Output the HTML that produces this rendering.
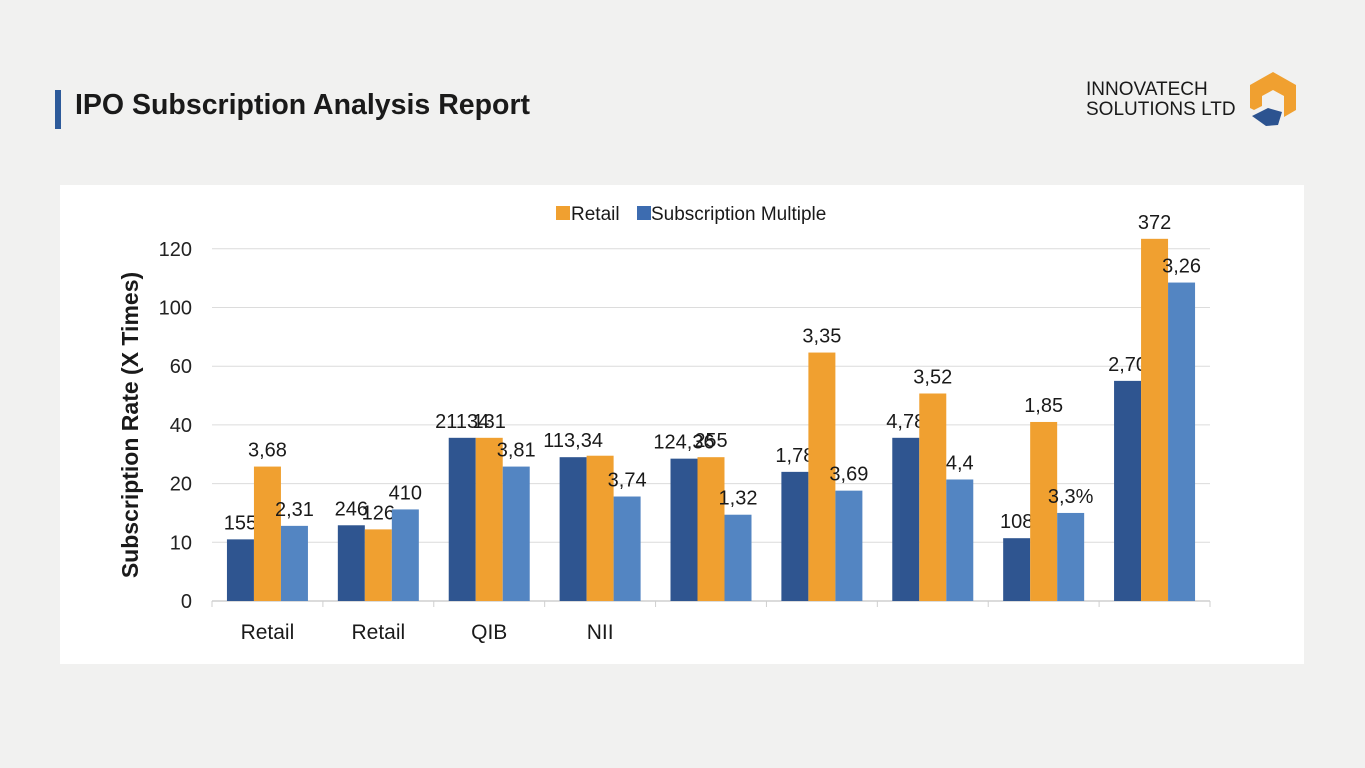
<!DOCTYPE html>
<html><head><meta charset="utf-8"><style>
body{margin:0;width:1365px;height:768px;background:#f1f1f0;font-family:"Liberation Sans",sans-serif;overflow:hidden;position:relative}
.abs{position:absolute}
</style></head><body>
<div class="abs" style="left:55px;top:90px;width:6px;height:39px;background:#2d5a9a"></div>
<div class="abs" style="left:75px;top:89px;font-size:28.5px;font-weight:bold;color:#1a1a1a">IPO Subscription Analysis Report</div>
<div class="abs" style="left:1086px;top:80px;font-size:19px;line-height:20px;color:#1a1a1a">INNOVATECH<br>SOLUTIONS LTD</div>
<svg class="abs" style="left:1246px;top:70px" width="54" height="58" viewBox="0 0 54 58">
<path d="M27 2 L50 15 L50 40 L38 47 L38 26 L27 20 L16 26 L16 36 L8 40 L4 38 L4 15 Z" fill="#f0a030"/>
<path d="M6 46 L22 38 L36 42 L32 55 L20 56 Z" fill="#2c5390"/>
</svg>
<div class="abs" style="left:60px;top:185px;width:1244px;height:479px;background:#fff"></div>
<svg id="chart" class="abs" style="left:0;top:0" width="1365" height="768"></svg>
<script>
const categories=["Retail","Retail","QIB","NII","","","","",""];
const tickValues=[0,10,20,40,60,100,120];
const seriesDark=[10.5,12.9,35.6,29,28.5,24,35.6,10.7,55];
const seriesOrange=[25.8,12.2,35.6,29.5,29,69.3,50.7,41,123.4];
const seriesLight=[12.8,15.6,25.8,17.8,14.7,18.8,21.4,15,108.5];
const labelsDark=["155","246","21134","113,34","124,36","1,78","4,78","108","2,70"];
const labelsOrange=["3,68","126","131","","255","3,35","3,52","1,85","372"];
const labelsLight=["2,31","410","3,81","3,74","1,32","3,69","4,4","3,3%","3,26"];
const svg=document.getElementById('chart');
const NS="http://www.w3.org/2000/svg";
const x0=212,x1=1210,yBase=601,step=58.7;
function y(v){
  for(let i=0;i<tickValues.length-1;i++){
    if(v<=tickValues[i+1]||i===tickValues.length-2){
      const a=tickValues[i],b=tickValues[i+1];
      return yBase-(i+(v-a)/(b-a))*step;
    }
  }
}
const gw=(x1-x0)/categories.length;
function gx(i){return x0+gw*(i+0.5);}
function mk(tag,attrs,text){const e=document.createElementNS(NS,tag);for(const k in attrs)e.setAttribute(k,attrs[k]);if(text!==undefined)e.textContent=text;svg.appendChild(e);return e;}
tickValues.forEach(t=>{
  const yy=y(t);
  if(t>0){const g=mk('line',{x1:212,x2:1210,y1:yy,y2:yy,stroke:'#dcdcdc','stroke-width':1});
  
  }
  const tl=mk('text',{x:192,y:yy+7,'text-anchor':'end','font-size':20,fill:'#222'},String(t));
  
  
});
const ax=mk('line',{x1:212,x2:1210,y1:yBase,y2:yBase,stroke:'#cfcfcf','stroke-width':1.5});


for(let i=0;i<=categories.length;i++){const tk=mk('line',{x1:x0+gw*i,x2:x0+gw*i,y1:yBase,y2:yBase+6,stroke:'#cfcfcf'});

}
const bw=27;
const series=[[seriesDark,'#2f5590',labelsDark],[seriesOrange,'#f0a030',labelsOrange],[seriesLight,'#5385c2',labelsLight]];
categories.forEach((c,i)=>{
  series.forEach((s,j)=>{
    const v=s[0][i],top=y(v),bx=gx(i)-1.5*bw+j*bw;
    const r=mk('rect',{x:bx,y:top,width:bw,height:yBase-top,fill:s[1]});
    
    
    if(s[2][i]){const t=mk('text',{x:bx+bw/2,y:top-10,'text-anchor':'middle','font-size':20,fill:'#1a1a1a'},s[2][i]);
    
    }
  });
  if(c){const xl=mk('text',{x:gx(i),y:639,'text-anchor':'middle','font-size':21,fill:'#1a1a1a'},c);
  
  }
});
const yt=mk('text',{x:0,y:0,transform:'translate(138,425) rotate(-90)','text-anchor':'middle','font-size':23,'font-weight':'bold',fill:'#1a1a1a'},'Subscription Rate (X Times)');


const l1=mk('rect',{x:556,y:206,width:14,height:14,fill:'#f0a030'});


const l1t=mk('text',{x:571,y:220,'font-size':19,fill:'#1a1a1a'},'Retail');


const l2=mk('rect',{x:637,y:206,width:14,height:14,fill:'#3d6cb0'});


const l2t=mk('text',{x:651,y:220,'font-size':19,fill:'#1a1a1a'},'Subscription Multiple');


</script>
</body></html>
